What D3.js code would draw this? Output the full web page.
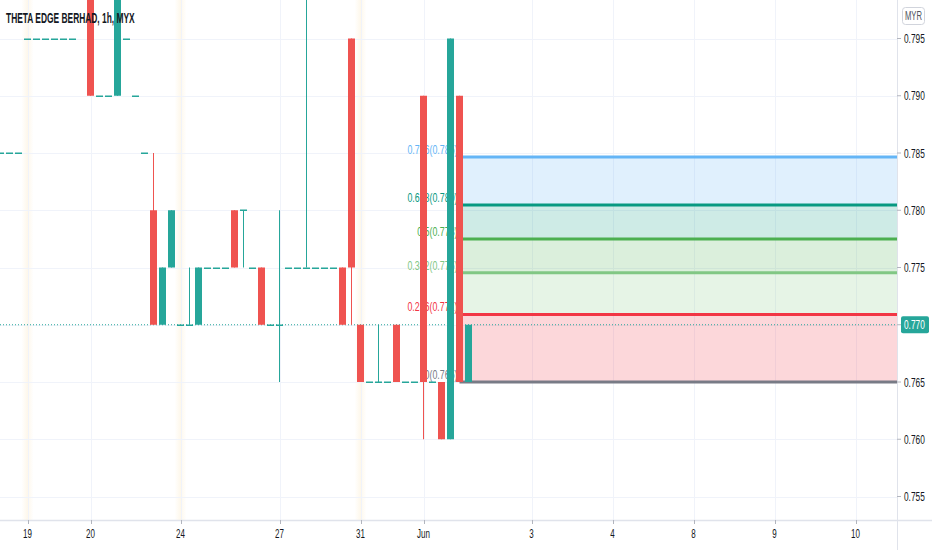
<!DOCTYPE html>
<html>
<head>
<meta charset="utf-8">
<script src="https://cdn.jsdelivr.net/npm/d3@7"></script>
<style>
    body { margin: 0; background: #fff; }
    svg { display: block; font-family: "Liberation Sans", Arial, sans-serif; }
</style>
</head>
<body>
<div id="chart"></div>
<script>
// hourly bars, index 0 = red bar after the 0.785 doji (around May 23)
const barIdx = [-17,-16,-15,-14,-13,-12,-11,-10,-9,-7,-6,-5,-4,-3,-2,-1,0,1,2,3,4,5,6,7,8,9,10,11,12,13,14,15,16,17,18,19,20,21,22,23,24,25,26,27,28,29,30,31,32,33,34,35];
const opens  = [.785,.785,.785,.795,.795,.795,.795,.795,.795,.800,.790,.790,.790,.795,.790,.785,.780,.770,.775,.770,.770,.770,.775,.775,.775,.780,.780,.775,.775,.770,.770,.775,.775,.775,.775,.775,.775,.775,.795,.770,.765,.765,.765,.770,.765,.765,.790,.765,.765,.760,.790,.765];
const highs  = [.785,.785,.785,.795,.795,.795,.795,.795,.795,.800,.790,.790,.800,.795,.790,.785,.785,.775,.780,.770,.775,.775,.775,.775,.775,.780,.780,.775,.775,.770,.780,.775,.775,.800,.775,.775,.775,.775,.795,.770,.765,.770,.765,.770,.765,.765,.790,.765,.765,.795,.790,.770];
const lows   = [.785,.785,.785,.795,.795,.795,.795,.795,.795,.790,.790,.790,.790,.795,.790,.785,.770,.770,.775,.770,.770,.770,.775,.775,.775,.775,.775,.775,.770,.770,.765,.775,.775,.775,.775,.775,.775,.770,.770,.765,.765,.765,.765,.765,.765,.765,.760,.765,.760,.760,.765,.765];
const closes = [.785,.785,.785,.795,.795,.795,.795,.795,.795,.790,.790,.790,.800,.795,.790,.785,.770,.775,.780,.770,.770,.775,.775,.775,.775,.775,.780,.775,.770,.770,.770,.775,.775,.775,.775,.775,.775,.770,.775,.765,.765,.765,.765,.765,.765,.765,.765,.765,.760,.795,.765,.770];

// time axis
const timeTickIdx = [-14, -7, 3, 14, 23, 30, 42, 51, 60, 69, 78];
const timeTickLabels = ["19", "20", "24", "27", "31", "Jun", "3", "4", "8", "9", "10"];
const sessionIdx = [-14, 3, 23];

// price axis
const priceTicks = [0.755, 0.760, 0.765, 0.770, 0.775, 0.780, 0.785, 0.790, 0.795];
const lastPrice = 0.770;

// fibonacci retracement
const fibLow = 0.765, fibHigh = 0.790, fibStartIdx = 34;
const fibLevels = [0, 0.236, 0.382, 0.5, 0.618, 0.786];
const fibColors = ["#787b86", "#f23645", "#81c784", "#4caf50", "#089981", "#64b5f6"];

const upColor = "#26a69a", downColor = "#ef5350";

const W = 932, H = 550, plotR = 897, plotB = 520;
const narrow = 0.64;   // the screenshot text is horizontally condensed

const bars = barIdx.map((d, i) => ({i: d, o: opens[i], h: highs[i], l: lows[i], c: closes[i]}));

const x = d3.scaleLinear().domain([0, 78]).range([153.5, 855.5]);
const y = d3.scaleLinear().domain([0.755, 0.795]).range([496.5, 38.5]);

const svg = d3.select("#chart").append("svg")
    .attr("width", W)
    .attr("height", H);

let tf = (tx, ty, k) => "translate(" + tx + "," + ty + ") scale(" + k + ",1)";

let defs = svg.append("defs");
defs.append("clipPath").attr("id", "plotClip")
    .append("rect").attr("x", 0).attr("y", 0).attr("width", plotR).attr("height", plotB);
let grad = defs.append("linearGradient").attr("id", "sess").attr("x1", "0%").attr("x2", "100%");
grad.append("stop").attr("offset", "0%").attr("stop-color", "#fbe6bd").attr("stop-opacity", 0);
grad.append("stop").attr("offset", "50%").attr("stop-color", "#fbe6bd").attr("stop-opacity", 0.3);
grad.append("stop").attr("offset", "100%").attr("stop-color", "#fbe6bd").attr("stop-opacity", 0);

svg.append("rect").attr("width", W).attr("height", H).attr("fill", "#fff");

let plot = svg.append("g").attr("clip-path", "url(#plotClip)");

// session highlight bands
plot.selectAll(".sess").data(sessionIdx).enter().append("rect")
    .attr("x", d => x(d) - 6)
    .attr("y", 0)
    .attr("width", 12)
    .attr("height", plotB)
    .attr("fill", "url(#sess)");

// grid
plot.selectAll(".hgrid").data(priceTicks).enter().append("line")
    .attr("x1", 0).attr("x2", plotR)
    .attr("y1", d => Math.round(y(d)) + 0.5).attr("y2", d => Math.round(y(d)) + 0.5)
    .attr("stroke", "#f0f3fa");
plot.selectAll(".vgrid").data(timeTickIdx).enter().append("line")
    .attr("x1", d => Math.round(x(d)) + 0.5).attr("x2", d => Math.round(x(d)) + 0.5)
    .attr("y1", 0).attr("y2", plotB)
    .attr("stroke", "#f0f3fa");

// fib retracement
let fib = fibLevels.map((lv, i) => ({lv: lv, p: fibLow + lv * (fibHigh - fibLow), color: fibColors[i]}));
let fx0 = x(fibStartIdx);

plot.selectAll(".fibFill").data(fib.slice(1)).enter().append("rect")
    .attr("x", fx0)
    .attr("y", d => y(d.p))
    .attr("width", plotR - fx0)
    .attr("height", (d, i) => y(fib[i].p) - y(d.p))
    .attr("fill", d => d.color)
    .attr("fill-opacity", 0.2);

plot.selectAll(".fibLine").data(fib).enter().append("line")
    .attr("x1", fx0).attr("x2", plotR)
    .attr("y1", d => y(d.p)).attr("y2", d => y(d.p))
    .attr("stroke", d => d.color)
    .attr("stroke-width", 3);

plot.selectAll(".fibLab").data(fib).enter().append("text")
    .attr("transform", d => tf(fx0 - 2, y(d.p) - 3, 0.68))
    .attr("text-anchor", "end")
    .attr("font-size", 13)
    .attr("fill", d => d.color)
    .text(d => d.lv + "(" + (d.p + 1e-9).toFixed(3) + ")");

// last price dotted line
plot.append("line")
    .attr("x1", 0).attr("x2", plotR)
    .attr("y1", y(lastPrice)).attr("y2", y(lastPrice))
    .attr("stroke", upColor)
    .attr("stroke-dasharray", "1,2");

// candles
let col = d => d.c < d.o ? downColor : upColor;
plot.selectAll(".wick").data(bars.filter(d => d.h > d.l)).enter().append("line")
    .attr("x1", d => x(d.i)).attr("x2", d => x(d.i))
    .attr("y1", d => y(d.h)).attr("y2", d => y(d.l))
    .attr("stroke", col)
    .attr("stroke-width", 1);

plot.selectAll(".body").data(bars).enter().append("rect")
    .attr("x", d => x(d.i) - 3.5)
    .attr("y", d => d.o === d.c ? Math.round(y(d.o)) - 0.5 : y(Math.max(d.o, d.c)))
    .attr("width", 7)
    .attr("height", d => d.o === d.c ? 1.5 : Math.abs(y(d.o) - y(d.c)))
    .attr("fill", col);

// axes frame
svg.append("line").attr("x1", plotR + 0.5).attr("x2", plotR + 0.5).attr("y1", 0).attr("y2", H)
    .attr("stroke", "#e0e3eb");
svg.append("line").attr("x1", 0).attr("x2", W).attr("y1", plotB + 0.5).attr("y2", plotB + 0.5)
    .attr("stroke", "#e0e3eb").attr("stroke-width", 1.5);

// price axis
let pAxis = svg.append("g");
pAxis.selectAll(".ptick").data(priceTicks).enter().append("line")
    .attr("x1", plotR).attr("x2", plotR + 4)
    .attr("y1", d => y(d)).attr("y2", d => y(d))
    .attr("stroke", "#b2b5be");
pAxis.selectAll(".plab").data(priceTicks).enter().append("text")
    .attr("transform", d => tf(904, y(d) + 4.5, narrow))
    .attr("font-size", 13)
    .attr("fill", "#131722")
    .text(d => d3.format(".3f")(d));

// last price tag
pAxis.append("rect")
    .attr("x", 901).attr("y", y(lastPrice) - 8.5)
    .attr("width", 28).attr("height", 17)
    .attr("rx", 2)
    .attr("fill", upColor);
pAxis.append("text")
    .attr("transform", tf(904, y(lastPrice) + 4.5, narrow))
    .attr("font-size", 13)
    .attr("fill", "#fff")
    .text(d3.format(".3f")(lastPrice));

// currency box
pAxis.append("rect")
    .attr("x", 902.5).attr("y", 7.5)
    .attr("width", 22).attr("height", 17)
    .attr("rx", 3)
    .attr("fill", "#fff")
    .attr("stroke", "#d1d4dc");
pAxis.append("text")
    .attr("transform", tf(913.5, 20, narrow))
    .attr("text-anchor", "middle")
    .attr("font-size", 12)
    .attr("fill", "#50535e")
    .text("MYR");

// time axis
let tAxis = svg.append("g");
tAxis.selectAll(".ttick").data(timeTickIdx).enter().append("line")
    .attr("x1", d => Math.round(x(d)) + 0.5).attr("x2", d => Math.round(x(d)) + 0.5)
    .attr("y1", plotB).attr("y2", plotB + 4)
    .attr("stroke", "#b2b5be");
tAxis.selectAll(".tlab").data(timeTickIdx).enter().append("text")
    .attr("transform", d => tf(x(d), 538, narrow))
    .attr("text-anchor", "middle")
    .attr("font-size", 12.5)
    .attr("fill", "#131722")
    .text((d, i) => timeTickLabels[i]);

// title
svg.append("text")
    .attr("transform", tf(6, 23, 0.6))
    .attr("font-size", 14)
    .attr("font-weight", 600)
    .attr("fill", "#131722")
    .text("THETA EDGE BERHAD, 1h, MYX");
</script>
</body>
</html>
